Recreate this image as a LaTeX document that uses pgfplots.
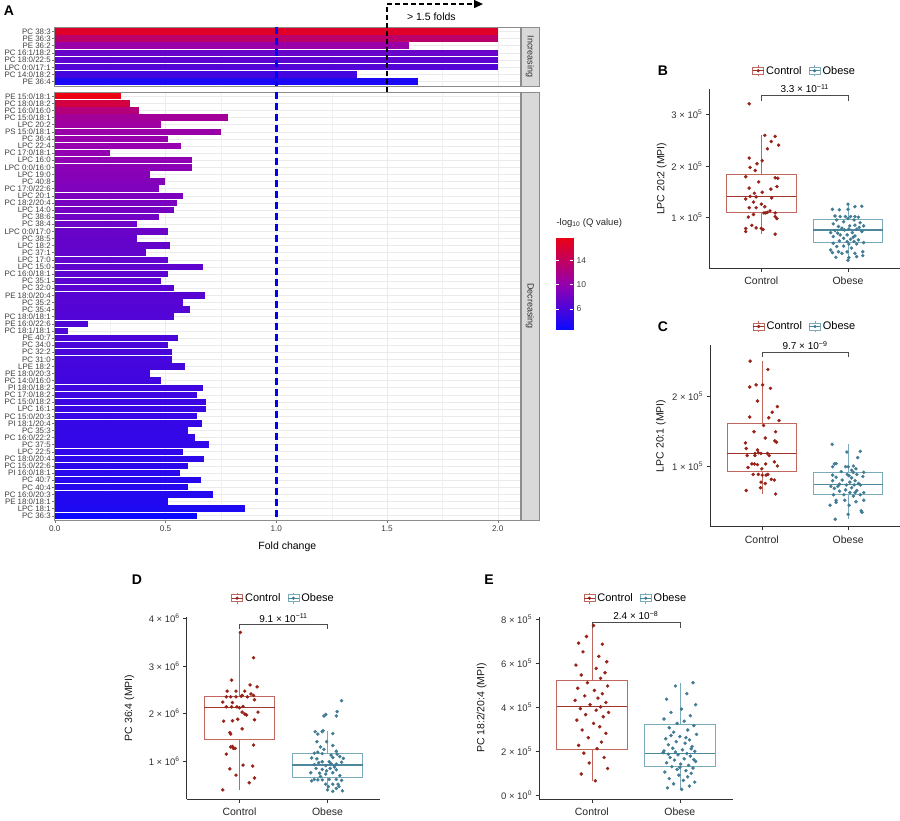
\documentclass[border=0pt]{standalone}
\usepackage{fontspec}
\setmainfont{Liberation Sans}
\usepackage{pgfplots}
\pgfplotsset{compat=1.18}
\usepgfplotslibrary{statistics}
\usetikzlibrary{arrows.meta}

\definecolor{qlo}{RGB}{10,10,255}
\definecolor{qmid}{RGB}{150,0,175}
\definecolor{qhi}{RGB}{235,0,20}
\definecolor{cbox}{RGB}{192,104,94}
\definecolor{cmed}{RGB}{160,52,42}
\definecolor{cpt}{RGB}{150,34,24}
\definecolor{obox}{RGB}{122,170,188}
\definecolor{omed}{RGB}{78,136,156}
\definecolor{opt}{RGB}{66,124,148}
\definecolor{gridc}{RGB}{235,235,235}
\definecolor{stripc}{RGB}{217,217,217}

% one bar of the fold-change chart: row, fold change, -log10 Q
\newcommand\qbar[3]{%
  \pgfmathsetmacro\qt{max(0,min(1,(#3-2.5)/15.2))}%
  \ifdim\qt pt<0.5pt
    \pgfmathsetmacro\qp{200*\qt}%
    \edef\qcol{qmid!\qp!qlo}%
  \else
    \pgfmathsetmacro\qp{200*\qt-100}%
    \edef\qcol{qhi!\qp!qmid}%
  \fi
  \edef\qnext{\noexpand\addplot[xbar, bar shift=0pt, bar width=6.4pt, draw=none, fill={\qcol}] coordinates {(#2,#1)};}%
  \qnext}

\pgfplotsset{
  facet/.style={
    scale only axis, width=465.3pt, xmin=0, xmax=2.1, y dir=reverse,
    axis line style={black!45, line width=0.6pt},
    xtick={0,0.5,1,1.5,2}, minor xtick={0.25,0.75,1.25,1.75},
    xmajorgrids, xminorgrids, ymajorgrids,
    major grid style={gridc, line width=0.55pt},
    minor grid style={gridc!70!white, line width=0.3pt},
    tick align=outside, major tick length=2.6pt, minor tick length=0pt,
    tick style={black!55, line width=0.4pt},
    xtick pos=bottom, ytick pos=left,
    yticklabel style={font=\fontsize{7.9}{7.9}\selectfont, text=black!75, inner sep=1.2pt},
    xticklabel style={font=\fontsize{8.2}{9}\selectfont, text=black!75},
  },
  boxpanel/.style={
    scale only axis, xmin=0.4, xmax=2.6, xtick={1,2}, xticklabels={Control,Obese},
    axis x line*=bottom, axis y line*=left,
    axis line style={black!80, line width=0.55pt, -},
    tick style={black!80, line width=0.5pt}, tick align=outside, major tick length=3.5pt,
    xticklabel style={font=\fontsize{10.5}{11}\selectfont, text=black!85, yshift=-2pt},
    yticklabel style={font=\fontsize{9.5}{10}\selectfont, text=black!80},
    ylabel style={font=\fontsize{10.5}{11}\selectfont, anchor=center, text=black!90},
    clip=false,
    boxplot/draw direction=y,
    legend style={draw=none, fill=none, legend columns=2,
      font=\fontsize{11}{11}\selectfont, at={(0.5,1)}, anchor=center, yshift=18.5pt,
      /tikz/every even column/.append style={column sep=5pt}},
  },
  ctrlbox/.style={draw=cbox, fill=white, line width=0.6pt, forget plot},
  obesebox/.style={draw=obox, fill=white, line width=0.6pt, forget plot},
  ctrlpts/.style={only marks, mark=*, mark size=1.55pt, color=cpt, forget plot},
  obesepts/.style={only marks, mark=*, mark size=1.55pt, color=opt, forget plot},
}

\newcommand\boxlegend{%
  \addlegendimage{legend image code/.code={
    \draw[cbox, line width=0.6pt] (5.5pt,-5.5pt) -- (5.5pt,5.5pt);
    \draw[cbox, line width=0.6pt, fill=white] (0pt,-3.5pt) rectangle (11pt,3.5pt);
    \draw[cmed, line width=0.9pt] (0pt,0pt) -- (11pt,0pt);
    \fill[cpt] (5.5pt,0pt) circle (1.4pt);}}
  \addlegendentry{Control}
  \addlegendimage{legend image code/.code={
    \draw[obox, line width=0.6pt] (5.5pt,-5.5pt) -- (5.5pt,5.5pt);
    \draw[obox, line width=0.6pt, fill=white] (0pt,-3.5pt) rectangle (11pt,3.5pt);
    \draw[omed, line width=0.9pt] (0pt,0pt) -- (11pt,0pt);
    \fill[opt] (5.5pt,0pt) circle (1.4pt);}}
  \addlegendentry{Obese}}

\begin{document}
\begin{tikzpicture}
\path[use as bounding box] (0pt,0pt) rectangle (900pt,821pt);

% ---------- A: increasing lipids ----------
\begin{axis}[facet, at={(54.7pt,735pt)}, anchor=south west, height=59pt,
  ymin=0.4, ymax=8.6, ytick={1,...,8}, clip=false,
  yticklabels={PC 38:3,PE 36:3,PE 36:2,PC 16:1/18:2,PC 18:0/22:5,LPC 0:0/17:1,PC 14:0/18:2,PE 36:4},
  xticklabels={}, xtick style={draw=none}]
\qbar{1}{2.0}{16.6}
\qbar{2}{2.0}{13.5}
\qbar{3}{1.60}{10.5}
\qbar{4}{2.0}{7.6}
\qbar{5}{2.0}{7.0}
\qbar{6}{2.0}{6.4}
\qbar{7}{1.365}{5.6}
\qbar{8}{1.64}{3.4}
\addplot[blue, line width=2.6pt, dash pattern=on 7pt off 4pt] coordinates {(1,0.4) (1,8.6)};
\draw[black, line width=1.3pt, dash pattern=on 5pt off 3pt, -{Triangle[length=9pt,width=8pt]}]
  (axis cs:1.5,9.4) -- (axis cs:1.5,-2.79) -- (axis cs:1.933,-2.79);
\node[font=\fontsize{10.5}{11}\selectfont] at (axis cs:1.70,-1.03) {> 1.5 folds};
\end{axis}

% ---------- A: decreasing lipids ----------
\begin{axis}[facet, at={(54.7pt,301pt)}, anchor=south west, height=428pt,
  ymin=0.4, ymax=60.6, ytick={1,...,60},
  yticklabels={PE 15:0/18:1,PC 18:0/18:2,PC 16:0/16:0,PC 15:0/18:1,LPC 20:2,PS 15:0/18:1,PC 36:4,LPC 22:4,PC 17:0/18:1,LPC 16:0,LPC 0:0/16:0,LPC 19:0,PC 40:8,PC 17:0/22:6,LPC 20:1,PC 18:2/20:4,LPC 14:0,PC 38:6,PC 38:4,LPC 0:0/17:0,PC 38:5,LPC 18:2,PC 37:1,LPC 17:0,LPC 15:0,PC 16:0/18:1,PC 35:1,PC 32:0,PE 18:0/20:4,PC 35:2,PC 35:4,PC 18:0/18:1,PE 16:0/22:6,PC 18:1/18:1,PE 40:7,PC 34:0,PC 32:2,PC 31:0,LPE 18:2,PE 18:0/20:3,PC 14:0/16:0,PI 18:0/18:2,PC 17:0/18:2,PC 15:0/18:2,LPC 16:1,PC 15:0/20:3,PI 18:1/20:4,PC 35:3,PC 16:0/22:2,PC 37:5,LPC 22:5,PC 18:0/20:4,PC 15:0/22:6,PI 16:0/18:1,PC 40:7,PC 40:4,PC 16:0/20:3,PE 18:0/18:1,LPC 18:1,PC 36:3},
  xticklabels={0.0,0.5,1.0,1.5,2.0},
  xlabel={Fold change},
  xlabel style={font=\fontsize{10.5}{11}\selectfont, at={(axis description cs:0.5,0)}, anchor=center, yshift=-27pt}]
\qbar{1}{0.30}{17.7}
\qbar{2}{0.34}{15.5}
\qbar{3}{0.38}{12.8}
\qbar{4}{0.78}{11.2}
\qbar{5}{0.48}{10.8}
\qbar{6}{0.75}{10.5}
\qbar{7}{0.51}{10.3}
\qbar{8}{0.57}{10.1}
\qbar{9}{0.25}{9.9}
\qbar{10}{0.62}{9.7}
\qbar{11}{0.62}{9.5}
\qbar{12}{0.43}{9.3}
\qbar{13}{0.50}{9.1}
\qbar{14}{0.47}{8.9}
\qbar{15}{0.58}{8.7}
\qbar{16}{0.55}{8.5}
\qbar{17}{0.54}{8.3}
\qbar{18}{0.47}{8.1}
\qbar{19}{0.37}{7.9}
\qbar{20}{0.51}{7.7}
\qbar{21}{0.37}{7.5}
\qbar{22}{0.52}{7.4}
\qbar{23}{0.41}{7.3}
\qbar{24}{0.51}{7.2}
\qbar{25}{0.67}{7.1}
\qbar{26}{0.51}{7.0}
\qbar{27}{0.48}{6.9}
\qbar{28}{0.54}{6.8}
\qbar{29}{0.68}{6.7}
\qbar{30}{0.58}{6.6}
\qbar{31}{0.61}{6.5}
\qbar{32}{0.54}{6.4}
\qbar{33}{0.15}{6.3}
\qbar{34}{0.06}{6.2}
\qbar{35}{0.555}{6.1}
\qbar{36}{0.51}{6.0}
\qbar{37}{0.53}{5.9}
\qbar{38}{0.53}{5.8}
\qbar{39}{0.59}{5.7}
\qbar{40}{0.43}{5.6}
\qbar{41}{0.48}{5.5}
\qbar{42}{0.67}{5.4}
\qbar{43}{0.64}{5.3}
\qbar{44}{0.685}{5.2}
\qbar{45}{0.685}{5.1}
\qbar{46}{0.64}{5.0}
\qbar{47}{0.665}{4.9}
\qbar{48}{0.60}{4.8}
\qbar{49}{0.635}{4.7}
\qbar{50}{0.695}{4.6}
\qbar{51}{0.58}{4.5}
\qbar{52}{0.675}{4.4}
\qbar{53}{0.60}{4.3}
\qbar{54}{0.565}{4.2}
\qbar{55}{0.66}{4.1}
\qbar{56}{0.60}{4.0}
\qbar{57}{0.715}{3.9}
\qbar{58}{0.51}{3.8}
\qbar{59}{0.86}{3.6}
\qbar{60}{0.64}{2.6}
\addplot[blue, line width=2.6pt, dash pattern=on 7pt off 4pt] coordinates {(1,0.4) (1,60.6)};
\end{axis}

% facet strips
\draw[black!45, fill=stripc, line width=0.5pt] (521pt,735pt) rectangle (539pt,794pt);
\node[rotate=-90, font=\fontsize{9}{9}\selectfont, text=black!80] at (530pt,764.5pt) {Increasing};
\draw[black!45, fill=stripc, line width=0.5pt] (521pt,301pt) rectangle (539pt,729pt);
\node[rotate=-90, font=\fontsize{9}{9}\selectfont, text=black!80] at (530pt,515pt) {Decreasing};

% colour key
\begin{axis}[scale only axis, at={(555.7pt,491pt)}, anchor=south west, width=17.3pt, height=91.7pt,
  xmin=0, xmax=1, ymin=2.5, ymax=17.7, axis line style={draw=none}, xtick=\empty,
  ytick={6,10,14}, yticklabels={6,10,14}, ytick pos=both, yticklabel pos=right,
  tick align=inside, major tick length=3.5pt, tick style={white, line width=0.6pt},
  axis on top, point meta min=2.5, point meta max=17.7,
  colormap={qmap}{rgb255=(10,10,255) rgb255=(150,0,175) rgb255=(235,0,20)},
  yticklabel style={font=\fontsize{8.5}{9}\selectfont, text=black!75}]
\addplot[surf, shader=interp, point meta=y, mesh/cols=2] coordinates {(0,2.5) (1,2.5) (0,17.7) (1,17.7)};
\end{axis}
\node[anchor=west, font=\fontsize{9.5}{10}\selectfont, text=black!85] at (553pt,598pt) {-log\textsubscript{10} (Q value)};

% ---------- B ----------
\begin{axis}[boxpanel, at={(709.3pt,552.7pt)}, anchor=south west, width=190.7pt, height=179pt,
  ymin=0.02, ymax=3.48, ytick={1,2,3},
  yticklabels={1 × 10\textsuperscript{5},2 × 10\textsuperscript{5},3 × 10\textsuperscript{5}},
  ylabel={LPC 20:2 (MPI)}, ylabel style={at={(axis description cs:-0.25,0.5)}}]
\boxlegend
\addplot[ctrlbox, boxplot prepared={draw position=1, lower whisker=0.68, lower quartile=1.097, median=1.41, upper quartile=1.84, upper whisker=2.59, box extend=0.8, whisker extend=0, every median/.style={draw=cmed, line width=1.2pt}}] coordinates {};
\addplot[obesebox, boxplot prepared={draw position=2, lower whisker=0.175, lower quartile=0.516, median=0.76, upper quartile=0.97, upper whisker=1.26, box extend=0.8, whisker extend=0, every median/.style={draw=omed, line width=1.2pt}}] coordinates {};
\addplot[ctrlpts] coordinates {(0.86,3.20) (1.04,2.59) (1.16,2.57) (1.115,2.47) (1.20,2.40) (1.07,2.33) (0.86,2.15) (1.01,2.10) (0.95,2.04) (0.87,1.97) (0.93,1.91) (0.82,1.79) (1.16,1.77) (1.19,1.76) (0.97,1.69) (1.18,1.60) (0.86,1.57) (1.11,1.55) (1.01,1.49) (0.92,1.47) (0.87,1.41) (0.94,1.40) (0.82,1.36) (1.12,1.38) (0.91,1.30) (1.00,1.26) (1.04,1.21) (0.86,1.19) (0.94,1.19) (1.10,1.13) (1.03,1.09) (1.05,1.09) (1.07,1.10) (1.16,1.09) (0.91,1.06) (0.85,1.01) (1.16,1.02) (1.18,0.98) (0.89,0.85) (0.94,0.80) (0.82,0.79) (1.00,0.79) (1.02,0.77) (0.82,0.73) (1.16,0.68)};
\addplot[obesepts] coordinates {(2.00,1.26) (2.08,1.21) (2.16,1.22) (1.82,1.16) (1.90,1.15) (2.00,1.16) (1.85,1.03) (1.91,1.02) (1.97,1.02) (2.03,1.02) (2.08,1.02) (2.12,1.007) (1.87,0.955) (2.00,0.98) (2.07,0.955) (1.83,0.878) (1.89,0.827) (2.02,0.84) (2.08,0.853) (2.18,0.84) (1.93,0.795) (2.01,0.78) (2.10,0.776) (1.85,0.75) (2.05,0.71) (2.16,0.73) (1.80,0.71) (1.91,0.665) (1.99,0.665) (2.08,0.646) (1.83,0.633) (1.95,0.60) (2.03,0.58) (2.12,0.57) (1.90,0.55) (1.99,0.537) (2.07,0.537) (2.18,0.517) (1.83,0.505) (2.01,0.49) (2.10,0.49) (1.87,0.44) (1.95,0.45) (2.04,0.41) (1.80,0.375) (1.89,0.34) (1.99,0.337) (2.17,0.34) (1.82,0.324) (1.93,0.31) (2.08,0.31) (1.86,0.233) (2.01,0.227) (2.00,0.175) (2.17,0.265) (2.10,0.246) (1.95,0.92) (2.14,0.90) (1.88,0.70) (2.06,0.62) (1.96,0.76) (2.13,0.81)};
\draw[black!70, line width=0.5pt] (axis cs:1,3.26) -- (axis cs:1,3.37) -- (axis cs:2,3.37) -- (axis cs:2,3.26);
\node[anchor=south, inner sep=1pt, font=\fontsize{10}{10}\selectfont] at (axis cs:1.5,3.39) {3.3 × 10\textsuperscript{−11}};
\end{axis}

% ---------- C ----------
\begin{axis}[boxpanel, at={(710pt,294.3pt)}, anchor=south west, width=190pt, height=181.7pt,
  ymin=0.133, ymax=2.73, ytick={1,2},
  yticklabels={1 × 10\textsuperscript{5},2 × 10\textsuperscript{5}},
  ylabel={LPC 20:1 (MPI)}, ylabel style={at={(axis description cs:-0.258,0.5)}}]
\boxlegend
\addplot[ctrlbox, boxplot prepared={draw position=1, lower whisker=0.60, lower quartile=0.92, median=1.18, upper quartile=1.61, upper whisker=2.50, box extend=0.8, whisker extend=0, every median/.style={draw=cmed, line width=1.2pt}}] coordinates {};
\addplot[obesebox, boxplot prepared={draw position=2, lower whisker=0.24, lower quartile=0.60, median=0.74, upper quartile=0.91, upper whisker=1.31, box extend=0.8, whisker extend=0, every median/.style={draw=omed, line width=1.2pt}}] coordinates {};
\addplot[ctrlpts] coordinates {(0.865,2.50) (1.07,2.38) (0.934,2.16) (1.01,2.16) (0.86,2.13) (1.10,2.11) (0.95,1.93) (1.12,1.77) (1.18,1.85) (0.86,1.70) (1.08,1.69) (1.20,1.65) (1.02,1.58) (0.91,1.49) (1.16,1.49) (1.04,1.40) (1.15,1.36) (1.17,1.34) (0.81,1.33) (0.95,1.23) (0.82,1.25) (0.83,1.15) (0.92,1.18) (0.96,1.19) (0.99,1.18) (1.065,1.18) (1.085,1.15) (0.92,1.15) (1.145,1.06) (0.885,1.03) (0.915,1.03) (0.95,1.02) (1.045,1.03) (0.84,0.98) (1.18,1.00) (1.00,0.96) (0.90,0.88) (0.96,0.88) (1.005,0.87) (1.05,0.87) (1.07,0.88) (1.11,0.81) (1.145,0.80) (0.99,0.77) (1.04,0.75) (0.985,0.69) (0.82,0.65) (1.16,0.60)};
\addplot[obesepts] coordinates {(1.815,1.31) (2.14,1.21) (1.985,1.20) (2.11,1.12) (1.84,1.03) (1.86,1.035) (2.06,1.00) (1.97,0.99) (2.09,0.96) (2.04,0.94) (1.82,0.87) (1.99,0.88) (2.10,0.88) (1.86,0.84) (2.04,0.83) (2.17,0.85) (1.93,0.80) (1.82,0.79) (2.02,0.77) (2.08,0.79) (1.98,0.73) (1.90,0.74) (2.14,0.73) (1.84,0.68) (2.04,0.69) (1.97,0.66) (1.90,0.64) (2.10,0.65) (2.18,0.62) (2.02,0.62) (1.83,0.59) (2.06,0.57) (1.96,0.51) (2.18,0.51) (1.86,0.48) (2.09,0.49) (1.79,0.44) (2.01,0.44) (2.15,0.36) (2.16,0.34) (2.00,0.31) (1.85,0.24) (1.92,0.92) (2.06,0.91) (1.88,0.71) (2.01,0.86) (2.12,0.75) (1.80,0.71) (2.07,0.73) (1.95,0.59) (2.14,0.59) (1.86,0.51) (2.08,0.62) (2.00,0.99) (1.82,0.99) (2.18,0.91)};
\draw[black!70, line width=0.5pt] (axis cs:1,2.56) -- (axis cs:1,2.62) -- (axis cs:2,2.62) -- (axis cs:2,2.56);
\node[anchor=south, inner sep=1pt, font=\fontsize{10}{10}\selectfont] at (axis cs:1.5,2.64) {9.7 × 10\textsuperscript{−9}};
\end{axis}

% ---------- D ----------
\begin{axis}[boxpanel, at={(186.7pt,21.7pt)}, anchor=south west, width=193.6pt, height=182.6pt,
  ymin=0.203, ymax=4.03, ytick={1,2,3,4},
  yticklabels={1 × 10\textsuperscript{6},2 × 10\textsuperscript{6},3 × 10\textsuperscript{6},4 × 10\textsuperscript{6}},
  ylabel={PC 36:4 (MPI)}, ylabel style={at={(axis description cs:-0.296,0.5)}}]
\boxlegend
\addplot[ctrlbox, boxplot prepared={draw position=1, lower whisker=0.40, lower quartile=1.45, median=2.12, upper quartile=2.37, upper whisker=3.70, box extend=0.8, whisker extend=0, every median/.style={draw=cmed, line width=1.2pt}}] coordinates {};
\addplot[obesebox, boxplot prepared={draw position=2, lower whisker=0.37, lower quartile=0.66, median=0.92, upper quartile=1.17, upper whisker=1.64, box extend=0.8, whisker extend=0, every median/.style={draw=omed, line width=1.2pt}}] coordinates {};
\addplot[ctrlpts] coordinates {(1.01,3.70) (1.16,3.17) (0.91,2.70) (1.12,2.60) (1.20,2.56) (0.86,2.47) (0.96,2.47) (1.06,2.47) (1.13,2.41) (1.16,2.38) (1.03,2.38) (0.90,2.35) (0.96,2.35) (1.02,2.36) (1.09,2.35) (1.17,2.29) (0.85,2.35) (0.81,2.24) (0.92,2.23) (0.85,2.14) (0.91,2.14) (0.97,2.14) (1.00,2.12) (1.04,2.15) (1.06,1.99) (1.08,1.97) (1.03,2.03) (1.21,2.03) (0.98,1.88) (0.92,1.85) (0.82,1.84) (1.17,1.87) (1.03,1.68) (0.89,1.60) (0.90,1.57) (0.92,1.31) (0.95,1.27) (0.90,1.30) (0.93,1.27) (1.16,1.34) (0.85,1.15) (1.04,0.92) (1.15,0.90) (0.89,0.84) (0.96,0.71) (1.17,0.65) (1.11,0.55) (0.81,0.40)};
\addplot[obesepts] coordinates {(2.16,2.27) (2.11,2.04) (2.10,1.95) (1.98,1.98) (1.96,1.95) (1.95,1.64) (1.86,1.62) (1.89,1.57) (1.94,1.62) (2.06,1.58) (1.88,1.41) (1.99,1.41) (2.06,1.33) (1.92,1.30) (1.89,1.19) (1.85,1.17) (1.94,1.16) (2.10,1.21) (2.11,1.15) (2.06,1.08) (2.14,1.10) (2.18,1.06) (1.82,1.07) (1.94,0.99) (1.90,0.97) (2.02,0.99) (2.10,0.94) (1.85,0.93) (1.98,0.91) (2.16,0.98) (1.87,0.85) (1.94,0.83) (2.03,0.85) (2.10,0.82) (1.81,0.76) (1.91,0.75) (1.98,0.73) (2.06,0.76) (1.85,0.62) (1.89,0.61) (1.94,0.61) (2.02,0.62) (2.10,0.62) (1.82,0.59) (2.16,0.60) (1.98,0.52) (2.06,0.52) (2.12,0.52) (2.01,0.47) (2.13,0.47) (2.00,0.40) (2.10,0.43) (2.17,0.38) (2.06,0.37) (1.96,1.25) (2.04,1.13) (1.88,1.05) (2.08,0.88) (1.92,0.68) (2.14,0.70) (1.99,0.80) (2.04,0.95)};
\draw[black!70, line width=0.5pt] (axis cs:1,3.77) -- (axis cs:1,3.87) -- (axis cs:2,3.87) -- (axis cs:2,3.77);
\node[anchor=south, inner sep=1pt, font=\fontsize{10}{10}\selectfont] at (axis cs:1.5,3.89) {9.1 × 10\textsuperscript{−11}};
\end{axis}

% ---------- E ----------
\begin{axis}[boxpanel, at={(539pt,21.7pt)}, anchor=south west, width=193.6pt, height=182.6pt,
  ymin=-0.2, ymax=8.1, ytick={0,2,4,6,8},
  yticklabels={0 × 10\textsuperscript{0},2 × 10\textsuperscript{5},4 × 10\textsuperscript{5},6 × 10\textsuperscript{5},8 × 10\textsuperscript{5}},
  ylabel={PC 18:2/20:4 (MPI)}, ylabel style={at={(axis description cs:-0.296,0.5)}}]
\boxlegend
\addplot[ctrlbox, boxplot prepared={draw position=1, lower whisker=0.64, lower quartile=2.09, median=4.0, upper quartile=5.19, upper whisker=7.70, box extend=0.8, whisker extend=0, every median/.style={draw=cmed, line width=1.2pt}}] coordinates {};
\addplot[obesebox, boxplot prepared={draw position=2, lower whisker=0.25, lower quartile=1.28, median=1.87, upper quartile=3.23, upper whisker=5.10, box extend=0.8, whisker extend=0, every median/.style={draw=omed, line width=1.2pt}}] coordinates {};
\addplot[ctrlpts] coordinates {(1.02,7.70) (0.94,7.20) (0.85,6.90) (1.12,6.85) (0.90,6.50) (1.08,6.30) (1.17,6.05) (0.82,5.90) (1.05,5.75) (1.15,5.55) (0.88,5.45) (1.10,5.30) (0.95,5.10) (1.18,4.95) (0.84,4.85) (1.03,4.75) (1.12,4.60) (0.92,4.50) (1.07,4.40) (0.81,4.30) (1.16,4.20) (0.98,4.10) (1.10,4.00) (0.87,3.92) (1.05,3.85) (1.19,3.75) (0.93,3.65) (1.13,3.55) (0.83,3.40) (1.02,3.25) (1.09,3.10) (0.89,2.95) (1.16,2.80) (0.96,2.60) (1.11,2.40) (0.85,2.25) (1.06,2.10) (0.91,1.90) (1.14,1.70) (0.97,1.45) (1.18,1.20) (0.88,0.95) (1.04,0.64)};
\addplot[obesepts] coordinates {(2.15,5.10) (1.95,4.95) (2.08,4.60) (1.85,4.35) (2.18,4.10) (2.02,3.90) (1.90,3.75) (2.12,3.60) (1.82,3.45) (2.05,3.35) (1.97,3.25) (2.16,3.15) (1.88,3.05) (2.09,2.95) (1.93,2.85) (2.19,2.75) (2.00,2.65) (1.84,2.55) (2.11,2.50) (1.96,2.42) (2.06,2.35) (1.87,2.28) (2.14,2.20) (1.92,2.12) (2.03,2.05) (2.17,1.98) (1.81,1.92) (2.08,1.88) (1.98,1.82) (2.12,1.76) (1.89,1.70) (2.05,1.64) (1.94,1.58) (2.18,1.52) (1.85,1.46) (2.01,1.40) (2.10,1.34) (1.91,1.28) (2.15,1.22) (1.97,1.16) (2.07,1.10) (1.83,1.04) (2.13,0.98) (1.99,0.90) (2.09,0.82) (1.88,0.74) (2.04,0.66) (2.17,0.58) (1.93,0.50) (2.11,0.40) (1.86,0.32) (2.02,0.25) (1.90,2.70) (2.13,2.10) (1.95,1.95) (2.07,2.60) (1.82,2.00) (2.16,1.60) (2.00,1.25) (1.87,1.85)};
\draw[black!70, line width=0.5pt] (axis cs:1,7.60) -- (axis cs:1,7.85) -- (axis cs:2,7.85) -- (axis cs:2,7.60);
\node[anchor=south, inner sep=1pt, font=\fontsize{10}{10}\selectfont] at (axis cs:1.5,7.90) {2.4 × 10\textsuperscript{−8}};
\end{axis}

% panel letters
\node[font=\bfseries\fontsize{14}{14}\selectfont] at (9pt,810pt) {A};
\node[font=\bfseries\fontsize{14}{14}\selectfont] at (663pt,750pt) {B};
\node[font=\bfseries\fontsize{14}{14}\selectfont] at (663pt,494pt) {C};
\node[font=\bfseries\fontsize{14}{14}\selectfont] at (137pt,241pt) {D};
\node[font=\bfseries\fontsize{14}{14}\selectfont] at (489pt,241pt) {E};
\end{tikzpicture}
\end{document}
